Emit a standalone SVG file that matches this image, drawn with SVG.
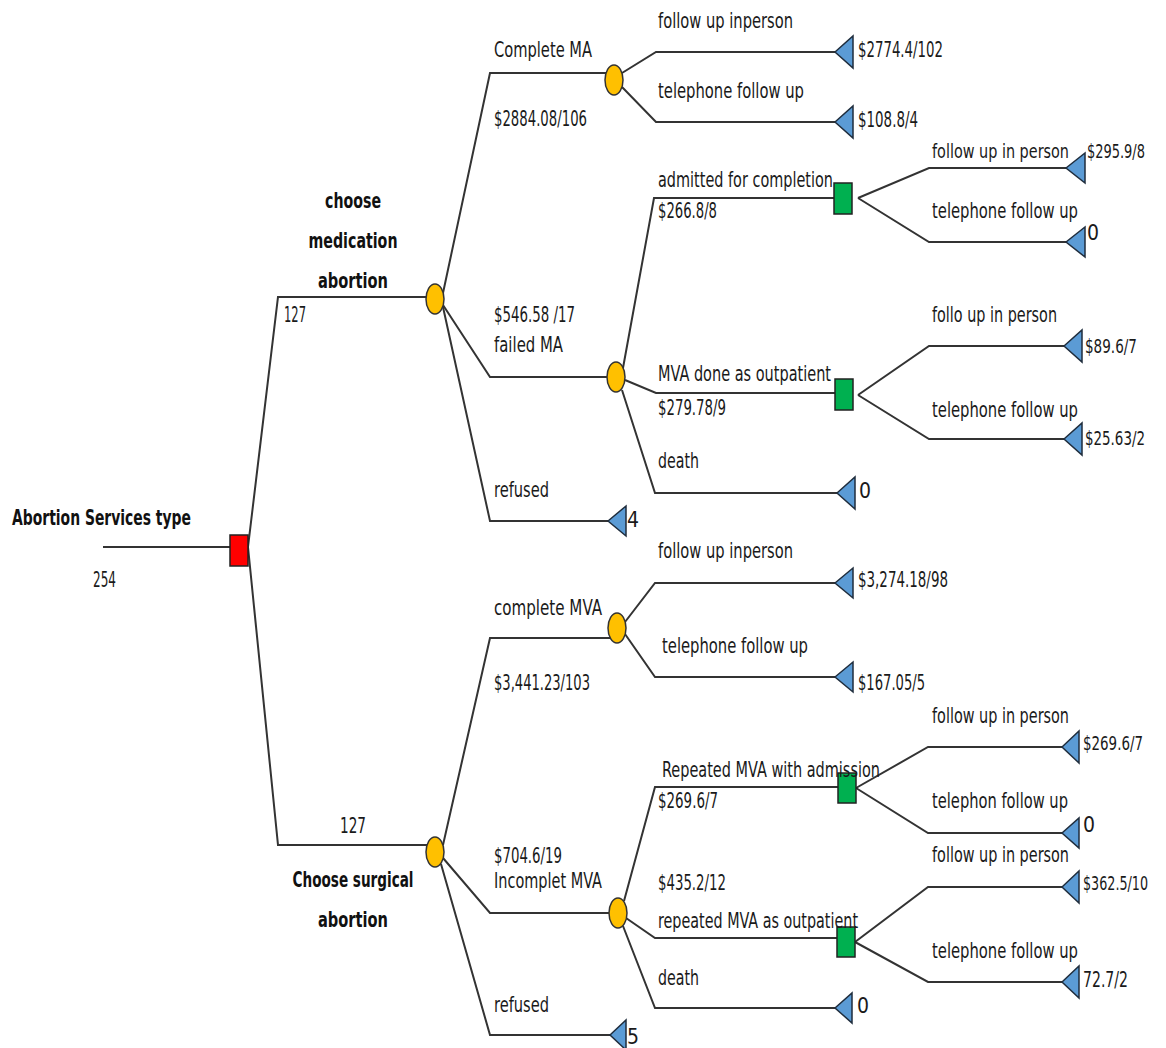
<svg xmlns="http://www.w3.org/2000/svg" width="1166" height="1048" viewBox="0 0 1166 1048">
<style>
.t{font-family:"Liberation Sans Narrow","DejaVu Sans Condensed","Liberation Sans",sans-serif;font-size:21px;fill:#1a1a1a}
.s{font-family:"Liberation Sans Narrow","DejaVu Sans Condensed","Liberation Sans",sans-serif;font-size:15px;fill:#1a1a1a}
.b{font-family:"Liberation Sans Narrow","DejaVu Sans Condensed","Liberation Sans",sans-serif;font-size:22px;font-weight:bold;fill:#111}
.c{fill:none;stroke:#333;stroke-width:2}
.chance{fill:#FFC000;stroke:#333;stroke-width:1.5}
.dec{fill:#00B050;stroke:#222;stroke-width:1.5}
.root{fill:#FF0000;stroke:#222;stroke-width:1.5}
.term{fill:#5B9BD5;stroke:#1f2d3d;stroke-width:1.5}
</style>
<rect width="1166" height="1048" fill="#fff"/>
<g id="connectors">
<polyline class="c" points="103,547 230,547"/>
<polyline class="c" points="248,547 278,297 427,297"/>
<polyline class="c" points="248,547 278,845 427,845"/>
<polyline class="c" points="443,293 490,73 606,73"/>
<polyline class="c" points="443,305 490,377 607,377"/>
<polyline class="c" points="443,307 490,521 608,521"/>
<polyline class="c" points="622,73 656,52 835,52"/>
<polyline class="c" points="622,87 656,122 835,122"/>
<polyline class="c" points="623,368 654,198 834,198"/>
<polyline class="c" points="625,380 656,393 835,393"/>
<polyline class="c" points="622,390 655,493 837,493"/>
<polyline class="c" points="858,198 929,168 1066,168"/>
<polyline class="c" points="858,198 929,242 1066,242"/>
<polyline class="c" points="858,395 929,346 1064,346"/>
<polyline class="c" points="858,395 929,439 1064,439"/>
<polyline class="c" points="443,845 490,638 610,638"/>
<polyline class="c" points="625,622 655,583 835,583"/>
<polyline class="c" points="625,634 655,677 835,677"/>
<polyline class="c" points="443,858 490,913 609,913"/>
<polyline class="c" points="441,864 490,1035 610,1035"/>
<polyline class="c" points="624,901 655,787 838,787"/>
<polyline class="c" points="626,918 655,938 837,938"/>
<polyline class="c" points="623,926 655,1008 835,1008"/>
<polyline class="c" points="856,788 928,747 1062,747"/>
<polyline class="c" points="856,788 928,833 1062,833"/>
<polyline class="c" points="855,942 928,887 1062,887"/>
<polyline class="c" points="855,942 928,982 1062,982"/>
</g>
<g id="root">
<rect class="root" x="230" y="535" width="18" height="31"/>
<text class="b" x="12" y="525" textLength="179" lengthAdjust="spacingAndGlyphs">Abortion Services type</text>
<text class="t" x="93" y="587" textLength="23" lengthAdjust="spacingAndGlyphs">254</text>
</g>
<g id="medication">
<ellipse class="chance" cx="435" cy="299" rx="9" ry="15"/>
<text class="b" x="353" y="208" text-anchor="middle" textLength="56" lengthAdjust="spacingAndGlyphs">choose</text>
<text class="b" x="353" y="248" text-anchor="middle" textLength="89" lengthAdjust="spacingAndGlyphs">medication</text>
<text class="b" x="353" y="288" text-anchor="middle" textLength="70" lengthAdjust="spacingAndGlyphs">abortion</text>
<text class="t" x="284" y="322" textLength="22" lengthAdjust="spacingAndGlyphs">127</text>
</g>
<g id="completeMA">
<ellipse class="chance" cx="614" cy="80" rx="9" ry="15"/>
<text class="t" x="494" y="57" textLength="98" lengthAdjust="spacingAndGlyphs">Complete MA</text>
<text class="t" x="494" y="126" textLength="93" lengthAdjust="spacingAndGlyphs">$2884.08/106</text>
</g>
<g id="ma-inperson">
<polygon class="term" points="835,52 853,36 853,68"/>
<text class="t" x="658" y="28" textLength="135" lengthAdjust="spacingAndGlyphs">follow up inperson</text>
<text class="t" x="858" y="57" textLength="85" lengthAdjust="spacingAndGlyphs">$2774.4/102</text>
</g>
<g id="ma-phone">
<polygon class="term" points="835,122 853,106 853,138"/>
<text class="t" x="658" y="98" textLength="146" lengthAdjust="spacingAndGlyphs">telephone follow up</text>
<text class="t" x="858" y="127" textLength="60" lengthAdjust="spacingAndGlyphs">$108.8/4</text>
</g>
<g id="failedMA">
<ellipse class="chance" cx="616" cy="377" rx="9" ry="15"/>
<text class="t" x="494" y="322" textLength="81" lengthAdjust="spacingAndGlyphs">$546.58 /17</text>
<text class="t" x="494" y="352" textLength="69" lengthAdjust="spacingAndGlyphs">failed MA</text>
</g>
<g id="admitted">
<rect class="dec" x="834" y="183" width="18" height="31"/>
<text class="t" x="658" y="187" textLength="175" lengthAdjust="spacingAndGlyphs">admitted for completion</text>
<text class="t" x="658" y="218" textLength="59" lengthAdjust="spacingAndGlyphs">$266.8/8</text>
</g>
<g id="adm-inperson">
<polygon class="term" points="1066,168 1085,153 1085,183"/>
<text class="s" transform="translate(932,158) scale(1,1.35)" textLength="137" lengthAdjust="spacingAndGlyphs">follow up in person</text>
<text class="s" transform="translate(1087,158) scale(1,1.35)" textLength="58" lengthAdjust="spacingAndGlyphs">$295.9/8</text>
</g>
<g id="adm-phone">
<polygon class="term" points="1066,242 1085,227 1085,257"/>
<text class="t" x="932" y="218" textLength="146" lengthAdjust="spacingAndGlyphs">telephone follow up</text>
<text class="t" x="1087" y="240">0</text>
</g>
<g id="mvaOut">
<rect class="dec" x="835" y="379" width="18" height="31"/>
<text class="t" x="658" y="381" textLength="173" lengthAdjust="spacingAndGlyphs">MVA done as outpatient</text>
<text class="t" x="658" y="415" textLength="68" lengthAdjust="spacingAndGlyphs">$279.78/9</text>
</g>
<g id="out-inperson">
<polygon class="term" points="1064,346 1082,330 1082,362"/>
<text class="t" x="932" y="322" textLength="125" lengthAdjust="spacingAndGlyphs">follo up in person</text>
<text class="s" transform="translate(1085,353) scale(1,1.35)" textLength="52" lengthAdjust="spacingAndGlyphs">$89.6/7</text>
</g>
<g id="out-phone">
<polygon class="term" points="1064,439 1082,423 1082,455"/>
<text class="t" x="932" y="417" textLength="146" lengthAdjust="spacingAndGlyphs">telephone follow up</text>
<text class="s" transform="translate(1085,445) scale(1,1.35)" textLength="60" lengthAdjust="spacingAndGlyphs">$25.63/2</text>
</g>
<g id="ma-death">
<polygon class="term" points="837,493 855,477 855,509"/>
<text class="t" x="658" y="468" textLength="41" lengthAdjust="spacingAndGlyphs">death</text>
<text class="t" x="859" y="498">0</text>
</g>
<g id="ma-refused">
<polygon class="term" points="608,521 626,506 626,536"/>
<text class="t" x="494" y="497" textLength="55" lengthAdjust="spacingAndGlyphs">refused</text>
<text class="t" x="627" y="527">4</text>
</g>
<g id="surgical">
<ellipse class="chance" cx="435" cy="852" rx="9" ry="15"/>
<text class="t" x="340" y="833" textLength="26" lengthAdjust="spacingAndGlyphs">127</text>
<text class="b" x="353" y="887" text-anchor="middle" textLength="121" lengthAdjust="spacingAndGlyphs">Choose surgical</text>
<text class="b" x="353" y="927" text-anchor="middle" textLength="70" lengthAdjust="spacingAndGlyphs">abortion</text>
</g>
<g id="completeMVA">
<ellipse class="chance" cx="617" cy="628" rx="9" ry="15"/>
<text class="t" x="494" y="615" textLength="108" lengthAdjust="spacingAndGlyphs">complete  MVA</text>
<text class="t" x="494" y="690" textLength="96" lengthAdjust="spacingAndGlyphs">$3,441.23/103</text>
</g>
<g id="mva-inperson">
<polygon class="term" points="835,583 853,568 853,598"/>
<text class="t" x="658" y="558" textLength="135" lengthAdjust="spacingAndGlyphs">follow up inperson</text>
<text class="t" x="858" y="587" textLength="90" lengthAdjust="spacingAndGlyphs">$3,274.18/98</text>
</g>
<g id="mva-phone">
<polygon class="term" points="835,677 853,662 853,692"/>
<text class="t" x="662" y="653" textLength="146" lengthAdjust="spacingAndGlyphs">telephone follow up</text>
<text class="t" x="858" y="690" textLength="67" lengthAdjust="spacingAndGlyphs">$167.05/5</text>
</g>
<g id="incompleteMVA">
<ellipse class="chance" cx="618" cy="913" rx="9" ry="15"/>
<text class="t" x="494" y="863" textLength="68" lengthAdjust="spacingAndGlyphs">$704.6/19</text>
<text class="t" x="494" y="888" textLength="108" lengthAdjust="spacingAndGlyphs">Incomplet MVA</text>
</g>
<g id="admission">
<rect class="dec" x="838" y="773" width="18" height="30"/>
<text class="t" x="662" y="777" textLength="218" lengthAdjust="spacingAndGlyphs">Repeated MVA with admission</text>
<text class="t" x="658" y="808" textLength="60" lengthAdjust="spacingAndGlyphs">$269.6/7</text>
</g>
<g id="rep-inperson">
<polygon class="term" points="1062,747 1079,731 1079,763"/>
<text class="t" x="932" y="723" textLength="137" lengthAdjust="spacingAndGlyphs">follow up in person</text>
<text class="s" transform="translate(1083,750) scale(1,1.35)" textLength="60" lengthAdjust="spacingAndGlyphs">$269.6/7</text>
</g>
<g id="rep-phone">
<polygon class="term" points="1062,833 1079,818 1079,848"/>
<text class="t" x="932" y="808" textLength="136" lengthAdjust="spacingAndGlyphs">telephon follow up</text>
<text class="t" x="1083" y="832">0</text>
</g>
<g id="repOut">
<rect class="dec" x="837" y="927" width="18" height="30"/>
<text class="t" x="658" y="890" textLength="68" lengthAdjust="spacingAndGlyphs">$435.2/12</text>
<text class="t" x="658" y="928" textLength="200" lengthAdjust="spacingAndGlyphs">repeated MVA as outpatient</text>
</g>
<g id="ro-inperson">
<polygon class="term" points="1062,887 1079,871 1079,903"/>
<text class="t" x="932" y="862" textLength="137" lengthAdjust="spacingAndGlyphs">follow up in person</text>
<text class="s" transform="translate(1083,890) scale(1,1.35)" textLength="65" lengthAdjust="spacingAndGlyphs">$362.5/10</text>
</g>
<g id="ro-phone">
<polygon class="term" points="1062,982 1079,966 1079,998"/>
<text class="t" x="932" y="958" textLength="146" lengthAdjust="spacingAndGlyphs">telephone follow up</text>
<text class="t" x="1083" y="987" textLength="45" lengthAdjust="spacingAndGlyphs">72.7/2</text>
</g>
<g id="mva-death">
<polygon class="term" points="835,1008 852,993 852,1023"/>
<text class="t" x="658" y="985" textLength="41" lengthAdjust="spacingAndGlyphs">death</text>
<text class="t" x="857" y="1013">0</text>
</g>
<g id="mva-refused">
<polygon class="term" points="610,1035 626,1020 626,1050"/>
<text class="t" x="494" y="1012" textLength="55" lengthAdjust="spacingAndGlyphs">refused</text>
<text class="t" x="627" y="1044">5</text>
</g>
</svg>
